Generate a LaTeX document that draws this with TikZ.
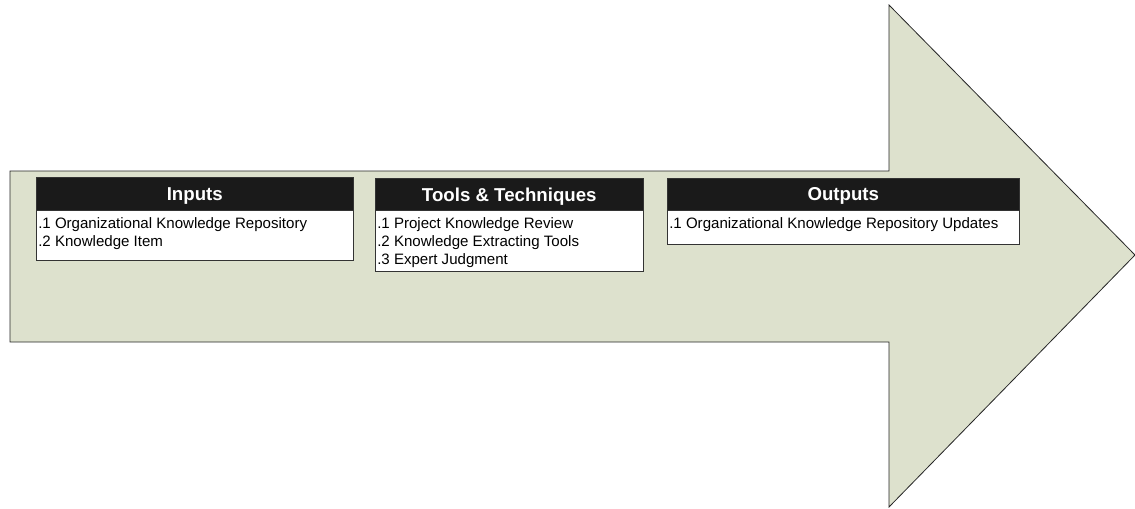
\documentclass[tikz,border=0pt]{standalone}
\usepackage{fontspec}
\setmainfont{Liberation Sans}
\usetikzlibrary{calc}
\definecolor{arrowfill}{RGB}{221,225,205}
\definecolor{headfill}{RGB}{26,26,26}

\begin{document}
\begin{tikzpicture}[x=0.75pt,y=-0.75pt,
    head/.style={draw=black!80, fill=headfill, text=white, anchor=north west, inner sep=0pt,
      font=\bfseries\fontsize{14}{16}\selectfont, text depth=0pt, minimum height=24pt},
    body/.style={draw=black!80, fill=white, anchor=north west, inner sep=0pt},
    item/.style={anchor=north west, align=left, inner xsep=1.5pt, inner ysep=5.5pt,
      font=\fontsize{11.3}{13.5}\selectfont}]

     \useasboundingbox (0,0) rectangle (1135,508);

     % big arrow
     \draw[fill=arrowfill, draw=black!85, line width=0.6pt]
       (10,171) -- (889,171) -- (889,5) -- (1135,255) -- (889,507) -- (889,342) -- (10,342) -- cycle;

     \node[body, minimum width=237.75pt, minimum height=37.5pt] (inbody) at (36,210) {};
     \node[head, minimum width=237.75pt, minimum height=24.75pt] (inhead) at (36,177) {Inputs};
     \node[item] (initems) at (inbody.north west) {.1 Organizational Knowledge Repository\\.2 Knowledge Item};

     \node[body, minimum width=201pt, minimum height=45.75pt] (ttbody) at (375,210) {};
     \node[head, minimum width=201pt] (tthead) at (375,178) {Tools \& Techniques};
     \node[item] (ttitems) at (ttbody.north west) {.1 Project Knowledge Review\\.2 Knowledge Extracting Tools\\.3 Expert Judgment};

     \node[body, minimum width=264pt, minimum height=25.5pt] (outbody) at (667,210) {};
     \node[head, minimum width=264pt] (outhead) at (667,178) {Outputs};
     \node[item] (outitems) at (outbody.north west) {.1 Organizational Knowledge Repository Updates};

\end{tikzpicture}
\end{document}
